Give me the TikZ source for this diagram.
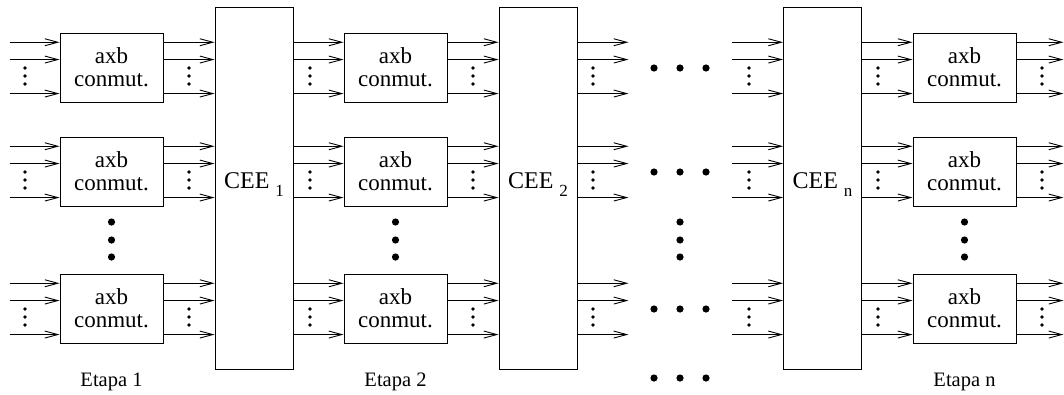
\documentclass[tikz,border=0pt]{standalone}
\usepackage{fontspec}
\setmainfont{Liberation Serif}
\usetikzlibrary{arrows.meta}
\begin{document}
\begin{tikzpicture}[x=1pt,y=-1pt,line width=0.9pt,
  arr/.style={-{Straight Barb[length=13pt,width=7pt]}},
  swbox/.style={draw,minimum width=103pt,minimum height=69pt,inner sep=0pt,align=center,
    font=\fontsize{23}{23}\selectfont},
  ceebox/.style={draw,minimum width=78pt,minimum height=362pt,inner sep=0pt},
  ceelbl/.style={anchor=base,inner sep=0pt,font=\fontsize{24}{24}\selectfont},
  etapa/.style={anchor=base,inner sep=0pt,font=\fontsize{20.5}{20.5}\selectfont},
  sdot/.style={fill=black},
  bdot/.style={fill=black}]
\useasboundingbox (0,0) rectangle (1064,394);
% switch boxes
\foreach \c/\x in {1/111.5,2/395.5,3/964.5}{
  \foreach \r/\y in {1/67.5,2/171.5,3/308.5}{
    \node[swbox] (s\c\r) at (\x,\y) {axb\\conmut.};
  }
}
% CEE boxes
\node[ceebox] (cee1) at (254,188) {};
\node[ceebox] (cee2) at (538,188) {};
\node[ceebox] (cee3) at (822.5,188) {};
\node[ceelbl] (l1) at (254,188) {CEE \raisebox{-8pt}{\fontsize{17}{17}\selectfont 1}};
\node[ceelbl] (l2) at (538,188) {CEE \raisebox{-8pt}{\fontsize{17}{17}\selectfont 2}};
\node[ceelbl] (l3) at (822.5,188) {CEE \raisebox{-8pt}{\fontsize{17}{17}\selectfont n}};
% connectors
\foreach \r in {1,2,3}{
  \foreach \k/\d in {1/9.7,2/27,3/61}{
    \coordinate (a\r\k) at ([yshift=-\d pt]s1\r.north west);
    \coordinate (b\r\k) at ([yshift=-\d pt]s1\r.north east);
    \coordinate (c\r\k) at ([yshift=-\d pt]s2\r.north west);
    \coordinate (d\r\k) at ([yshift=-\d pt]s2\r.north east);
    \coordinate (e\r\k) at ([yshift=-\d pt]s3\r.north west);
    \coordinate (f\r\k) at ([yshift=-\d pt]s3\r.north east);
    \coordinate (h\r\k) at (d\r\k -| cee2.east);
    \coordinate (g\r\k) at (e\r\k -| cee3.west);
    \draw[arr] ([xshift=-50pt]a\r\k) -- (a\r\k);
    \draw[arr] (b\r\k) -- (b\r\k -| cee1.west);
    \draw[arr] (c\r\k -| cee1.east) -- (c\r\k);
    \draw[arr] (d\r\k) -- (d\r\k -| cee2.west);
    \draw[arr] (h\r\k) -- ([xshift=51pt]h\r\k);
    \draw[arr] ([xshift=-51pt]g\r\k) -- (g\r\k);
    \draw[arr] (e\r\k -| cee3.east) -- (e\r\k);
    \draw[arr] (f\r\k) -- ([xshift=47pt]f\r\k);
  }
}
% small vertical ellipses
\foreach \x in {25,189,310,473,593,749,878,1042}{
  \foreach \y in {33,137,274}{
    \foreach \dy in {35,43,51}{
      \fill[sdot] (\x,\y+\dy) circle[radius=1.9pt];
    }
  }
}
% big horizontal dots
\foreach \y in {68,172,309,378}{
  \foreach \x in {654,680,706}{
    \fill[bdot] (\x,\y) circle[radius=3.6pt];
  }
}
% big vertical dots
\foreach \x in {111.5,395.5,680,964.5}{
  \foreach \y in {222,240,257}{
    \fill[bdot] (\x,\y) circle[radius=3.6pt];
  }
}
% stage labels
\node[etapa] (et1) at (111.5,386) {Etapa 1};
\node[etapa] (et2) at (395.5,386) {Etapa 2};
\node[etapa] (et3) at (964.5,386) {Etapa n};
\end{tikzpicture}
\end{document}
